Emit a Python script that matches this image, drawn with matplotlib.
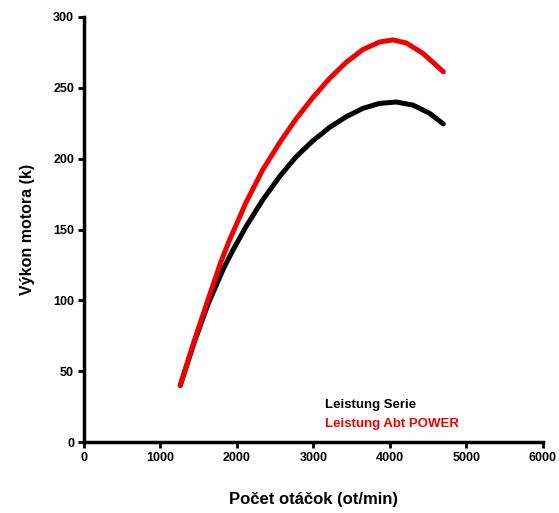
import matplotlib
matplotlib.use("Agg")
import matplotlib.pyplot as plt

plt.rcParams['font.family'] = ['Liberation Sans', 'DejaVu Sans']

rpm_serie = [1260, 1440, 1620, 1830, 1944, 2119, 2337, 2556, 2774, 2992, 3211, 3430, 3648, 3866, 4085, 4303, 4521, 4700]
serie = [40, 70, 97, 123, 135, 152, 170.8, 187.2, 201.3, 212.5, 222, 229.6, 235.5, 239, 240, 237.8, 232, 224.5]
rpm_abt = [1260, 1440, 1620, 1790, 1900, 2119, 2337, 2556, 2774, 2992, 3211, 3430, 3648, 3866, 4041, 4216, 4434, 4700]
abt = [40, 71, 100, 127, 142, 169, 192, 211, 228, 243, 256.5, 268, 277, 282.3, 283.8, 281.6, 274.3, 261.3]

x_ticks = [0, 1000, 2000, 3000, 4000, 5000, 6000]
y_ticks = [0, 50, 100, 150, 200, 250, 300]

fig = plt.figure(figsize=(5.59, 5.13), dpi=100)
ax = fig.add_axes([0.150, 0.138, 0.821, 0.829])

ax.plot(rpm_serie, serie, color='black', lw=3.6, solid_capstyle='round', solid_joinstyle='round')
ax.plot(rpm_abt, abt, color='#f00000', lw=3.6, solid_capstyle='round', solid_joinstyle='round')

ax.set_xlim(0, 6000)
ax.set_ylim(0, 300)
ax.set_xticks(x_ticks)
ax.set_yticks(y_ticks)
for s in ['top', 'right']:
    ax.spines[s].set_visible(False)
for s in ['left', 'bottom']:
    ax.spines[s].set_linewidth(2.5)
ax.tick_params(width=2, length=4, labelsize=9, pad=3)
for lab in ax.get_xticklabels() + ax.get_yticklabels():
    lab.set_fontweight('bold')

ax.set_xlabel('Počet otáčok (ot/min)', fontsize=12, fontweight='bold', labelpad=20)
ax.set_ylabel('Výkon motora (k)', fontsize=11.5, fontweight='bold', labelpad=13)

ax.text(3150, 26, 'Leistung Serie', color='black', fontsize=9.5, fontweight='bold', va='center')
ax.text(3150, 13, 'Leistung Abt POWER', color='#f00000', fontsize=9.5, fontweight='bold', va='center')

fig.savefig('out.png', dpi=100)
